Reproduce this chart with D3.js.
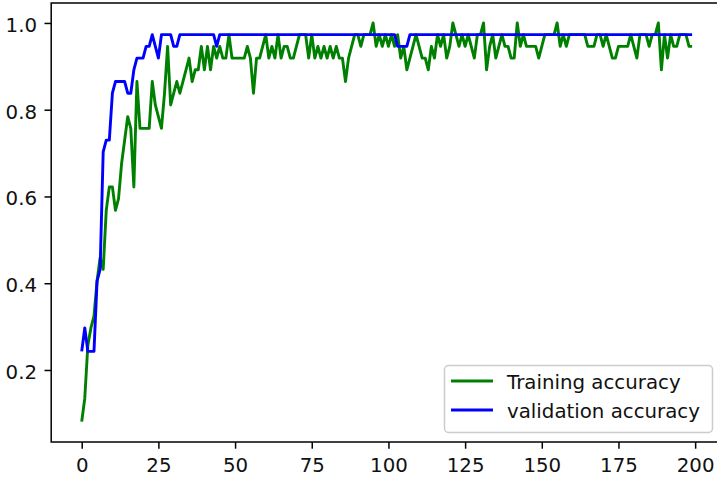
<!DOCTYPE html>
<html>
<head>
<meta charset="utf-8">
<script src="https://cdn.jsdelivr.net/npm/d3@7"></script>
<style>
  body { margin: 0; background: #fff; }
  text { font-family: "DejaVu Sans", sans-serif; }
</style>
</head>
<body>
<div id="chart"></div>
<script>
// accuracy per epoch
var trainAcc = [
  0.081,0.135,0.257,0.297,0.324,0.405,0.459,0.432,0.568,0.622,
  0.622,0.568,0.595,0.676,0.730,0.784,0.757,0.622,0.865,0.757,
  0.757,0.757,0.757,0.865,0.811,0.784,0.757,0.838,0.946,0.811,
  0.838,0.865,0.838,0.865,0.892,0.919,0.865,0.892,0.892,0.946,
  0.892,0.946,0.892,0.946,0.919,0.946,0.919,0.919,0.973,0.919,
  0.919,0.919,0.919,0.919,0.946,0.919,0.838,0.919,0.919,0.946,
  0.973,0.919,0.946,0.919,0.973,0.919,0.946,0.946,0.919,0.919,
  0.946,0.973,0.973,0.973,0.919,0.973,0.919,0.946,0.919,0.946,
  0.919,0.946,0.919,0.946,0.919,0.919,0.865,0.919,0.946,0.973,
  0.973,0.946,0.973,0.973,0.973,1.000,0.946,0.973,0.946,0.973,
  0.946,0.973,0.946,0.973,0.919,0.946,0.892,0.919,0.946,0.973,
  0.946,0.919,0.919,0.892,0.946,0.919,0.973,0.946,0.973,0.919,
  0.946,1.000,0.973,0.946,0.973,0.946,0.973,0.946,0.919,0.973,
  0.973,1.000,0.892,0.946,0.973,0.919,0.946,0.973,0.946,0.946,
  0.919,0.919,1.000,0.946,0.973,0.946,0.946,0.946,0.946,0.919,
  0.946,0.973,0.973,0.973,0.973,1.000,0.946,0.973,0.946,0.973,
  0.973,0.973,0.973,0.973,0.973,0.946,0.946,0.946,0.973,0.973,
  0.946,0.973,0.946,0.919,0.919,0.946,0.946,0.946,0.946,0.973,
  0.946,0.919,0.973,0.973,0.973,0.946,0.973,0.973,1.000,0.892,
  0.973,0.919,0.973,0.946,0.946,0.973,0.973,0.973,0.946,0.946
];
var valAcc = [
  0.243,0.297,0.243,0.243,0.243,0.405,0.432,0.703,0.730,0.730,
  0.838,0.865,0.865,0.865,0.865,0.838,0.838,0.892,0.919,0.919,
  0.919,0.946,0.946,0.973,0.946,0.919,0.973,0.973,0.973,0.973,
  0.946,0.946,0.973,0.973,0.973,0.973,0.973,0.973,0.973,0.973,
  0.973,0.973,0.973,0.973,0.946,0.973,0.973,0.973,0.973,0.973,
  0.973,0.973,0.973,0.973,0.973,0.973,0.973,0.973,0.973,0.973,
  0.973,0.973,0.973,0.973,0.973,0.973,0.973,0.973,0.973,0.973,
  0.973,0.973,0.973,0.973,0.973,0.973,0.973,0.973,0.973,0.973,
  0.973,0.973,0.973,0.973,0.973,0.973,0.973,0.973,0.973,0.973,
  0.973,0.973,0.973,0.973,0.973,0.973,0.973,0.973,0.973,0.973,
  0.973,0.973,0.973,0.946,0.946,0.946,0.946,0.973,0.973,0.973,
  0.973,0.973,0.973,0.973,0.973,0.973,0.973,0.973,0.973,0.973,
  0.973,0.973,0.973,0.973,0.973,0.973,0.973,0.973,0.973,0.973,
  0.973,0.973,0.973,0.973,0.973,0.973,0.973,0.973,0.973,0.973,
  0.973,0.973,0.973,0.973,0.973,0.973,0.973,0.973,0.973,0.973,
  0.973,0.973,0.973,0.973,0.973,0.973,0.973,0.973,0.973,0.973,
  0.973,0.973,0.973,0.973,0.973,0.973,0.973,0.973,0.973,0.973,
  0.973,0.973,0.973,0.973,0.973,0.973,0.973,0.973,0.973,0.973,
  0.973,0.973,0.973,0.973,0.973,0.973,0.973,0.973,0.973,0.973,
  0.973,0.973,0.973,0.973,0.973,0.973,0.973,0.973,0.973,0.973
];
var xTicks = [0, 25, 50, 75, 100, 125, 150, 175, 200];
var yTicks = [0.2, 0.4, 0.6, 0.8, 1.0];
var seriesNames = ["Training accuracy", "validation accuracy"];
var seriesColors = ["green", "blue"];

var W = 717, H = 480;
var fs = 19.8;      // 10pt at this picture's dpi
var lw = 2.9;       // 1.5pt line
var tickLen = 6.7;

var svg = d3.select("#chart").append("svg")
    .attr("width", W)
    .attr("height", H);

// matplotlib keeps a 5% margin around the data
var x = d3.scaleLinear().domain([-9.95, 208.95]).range([51.2, 722.6]);
var y = d3.scaleLinear().domain([0.034, 1.046]).range([442, 3]);

var line = d3.line()
    .x(function(d, i) { return x(i); })
    .y(function(d) { return y(d); });

svg.append("path")
    .datum(trainAcc)
    .attr("d", line)
    .attr("fill", "none")
    .attr("stroke", seriesColors[0])
    .attr("stroke-width", lw)
    .attr("stroke-linejoin", "round");

svg.append("path")
    .datum(valAcc)
    .attr("d", line)
    .attr("fill", "none")
    .attr("stroke", seriesColors[1])
    .attr("stroke-width", lw)
    .attr("stroke-linejoin", "round");

// axes box (right edge falls outside the picture)
svg.append("rect")
    .attr("x", x.range()[0])
    .attr("y", y.range()[1])
    .attr("width", x.range()[1] - x.range()[0])
    .attr("height", y.range()[0] - y.range()[1])
    .attr("fill", "none")
    .attr("stroke", "#000")
    .attr("stroke-width", 1.5);

var xAxis = svg.append("g")
    .attr("transform", "translate(0," + y.range()[0] + ")")
    .call(d3.axisBottom(x).tickValues(xTicks).tickFormat(d3.format("d"))
        .tickSize(tickLen).tickSizeOuter(0).tickPadding(8.7));
var yAxis = svg.append("g")
    .attr("transform", "translate(" + x.range()[0] + ",0)")
    .call(d3.axisLeft(y).tickValues(yTicks).tickFormat(d3.format(".1f"))
        .tickSize(tickLen).tickSizeOuter(0).tickPadding(7.5));

[xAxis, yAxis].forEach(function(g) {
  g.select(".domain").remove();
  g.selectAll(".tick line").attr("stroke", "#000").attr("stroke-width", 1.5);
  g.selectAll(".tick text")
    .attr("fill", "#111")
    .style("font-family", "DejaVu Sans")
    .style("font-size", fs + "px");
});
xAxis.selectAll(".tick text").attr("dy", "0.72em");
yAxis.selectAll(".tick text").attr("dy", "0.42em");

// legend, lower right
var legend = svg.append("g");
legend.append("rect")
    .attr("x", 444.5)
    .attr("y", 365.5)
    .attr("width", 268)
    .attr("height", 67)
    .attr("rx", 4)
    .attr("fill", "#fff")
    .attr("fill-opacity", 0.8)
    .attr("stroke", "#ccc")
    .attr("stroke-width", 1.5);

var rowY = [381, 410];
seriesNames.forEach(function(name, i) {
  legend.append("line")
      .attr("x1", 451).attr("x2", 493)
      .attr("y1", rowY[i]).attr("y2", rowY[i])
      .attr("stroke", seriesColors[i])
      .attr("stroke-width", lw);
  legend.append("text")
      .attr("x", 507)
      .attr("y", rowY[i])
      .attr("dy", "0.38em")
      .attr("fill", "#111")
      .style("font-size", fs + "px")
      .text(name);
});
</script>
</body>
</html>
